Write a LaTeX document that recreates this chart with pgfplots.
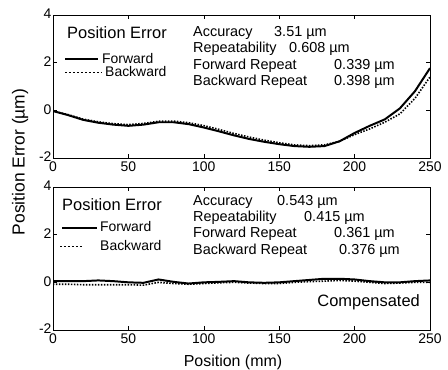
\documentclass[border=0pt]{standalone}
\usepackage{pgfplots}
\pgfplotsset{compat=1.18}
\usepackage{fontspec}
\setmainfont{Liberation Sans}
\newcommand\af{\fontsize{14.5}{16}\selectfont}
\newcommand\bgf{\fontsize{16.5}{18}\selectfont}
\newcommand\lgf{\fontsize{14}{16}\selectfont}
\newcommand\tf{\fontsize{14}{16}\selectfont}
\pgfplotstableread{
x y
0 -0.03
10 -0.2
20 -0.4
30 -0.52
40 -0.6
50 -0.65
60 -0.6
70 -0.5
80 -0.5
90 -0.58
100 -0.72
110 -0.88
120 -1.05
130 -1.2
140 -1.32
150 -1.42
160 -1.5
170 -1.53
180 -1.5
190 -1.3
200 -0.95
210 -0.65
220 -0.38
230 0.08
240 0.8
250 1.77
}\topfwd
\pgfplotstableread{
x y
0 -0.03
10 -0.18
20 -0.37
30 -0.48
40 -0.56
50 -0.6
60 -0.55
70 -0.46
80 -0.45
90 -0.52
100 -0.64
110 -0.8
120 -0.97
130 -1.12
140 -1.25
150 -1.36
160 -1.45
170 -1.48
180 -1.45
190 -1.3
200 -1.02
210 -0.78
220 -0.5
230 -0.15
240 0.5
250 1.4
}\topbwd
\pgfplotstableread{
x y
0 0.05
10 0.05
20 0.05
30 0.08
40 0.05
50 0.0
60 -0.02
70 0.12
80 0.02
90 -0.05
100 0.0
110 0.02
120 0.05
130 0.0
140 -0.02
150 0.0
160 0.05
170 0.1
180 0.15
190 0.15
200 0.12
210 0.05
220 0.0
230 0.0
240 0.05
250 0.08
}\botfwd
\pgfplotstableread{
x y
0 -0.08
10 -0.08
20 -0.1
30 -0.1
40 -0.1
50 -0.1
60 -0.12
70 0.0
80 -0.05
90 -0.08
100 -0.05
110 -0.02
120 0.0
130 -0.03
140 -0.05
150 -0.05
160 0.0
170 0.03
180 0.05
190 0.08
200 0.05
210 0.0
220 -0.05
230 -0.03
240 0.0
250 0.0
}\botbwd
\begin{document}
\begin{tikzpicture}
\useasboundingbox (0,0) rectangle (448bp,370bp);
\pgfplotsset{every axis/.append style={scale only axis, width=377bp,
  xmin=0, xmax=250, ymin=-2, ymax=4,
  xtick={0,50,...,250}, ytick={-2,0,2,4},
  tick label style={font=\tf},
  /pgf/number format/assume math mode=true,
  axis line style={line width=0.9pt},
  tick style={black, line width=0.6pt},
  xticklabel style={yshift=-0.5bp},
  yticklabel style={xshift=2bp, yshift=1bp}}}
\begin{axis}[at={(53bp,212bp)}, anchor=south west, height=143bp]
\addplot[black, line width=2pt] table[x=x,y=y]{\topfwd};
\addplot[black, line width=1.6pt, dash pattern=on 1.5pt off 1.5pt] table[x=x,y=y]{\topbwd};
\end{axis}
\begin{axis}[at={(53bp,40bp)}, anchor=south west, height=143bp]
\addplot[black, line width=2pt] table[x=x,y=y]{\botfwd};
\addplot[black, line width=1.6pt, dash pattern=on 1.5pt off 1.5pt] table[x=x,y=y]{\botbwd};
\end{axis}
% top annotations
\node[anchor=west, inner sep=0pt] at (67bp,337bp) {\bgf Position Error};
\draw[black, line width=1.1pt] (65bp,311bp) -- (98bp,311bp);
\draw[black, line width=0.8pt, dash pattern=on 2pt off 2pt] (65bp,298bp) -- (101bp,298bp);
\node[anchor=west, inner sep=0pt] at (102bp,311bp) {\lgf Forward};
\node[anchor=west, inner sep=0pt] at (105bp,298bp) {\lgf Backward};
\node[anchor=west, inner sep=0pt] at (193bp,337bp) {\af Accuracy};
\node[anchor=west, inner sep=0pt] at (193bp,321bp) {\af Repeatability};
\node[anchor=west, inner sep=0pt] at (193bp,304bp) {\af Forward Repeat};
\node[anchor=west, inner sep=0pt] at (193bp,288bp) {\af Backward Repeat};
\node[anchor=west, inner sep=0pt] at (274bp,337bp) {\af 3.51 µm};
\node[anchor=west, inner sep=0pt] at (289bp,321bp) {\af 0.608 µm};
\node[anchor=west, inner sep=0pt] at (334bp,304bp) {\af 0.339 µm};
\node[anchor=west, inner sep=0pt] at (334bp,288bp) {\af 0.398 µm};
% bottom annotations
\node[anchor=west, inner sep=0pt] at (62bp,165bp) {\bgf Position Error};
\draw[black, line width=1.1pt] (62bp,142bp) -- (97bp,142bp);
\draw[black, line width=0.8pt, dash pattern=on 2pt off 2pt] (60bp,124bp) -- (83bp,124bp);
\node[anchor=west, inner sep=0pt] at (100bp,143bp) {\lgf Forward};
\node[anchor=west, inner sep=0pt] at (100bp,124bp) {\lgf Backward};
\node[anchor=west, inner sep=0pt] at (193bp,168bp) {\af Accuracy};
\node[anchor=west, inner sep=0pt] at (193bp,152bp) {\af Repeatability};
\node[anchor=west, inner sep=0pt] at (193bp,136bp) {\af Forward Repeat};
\node[anchor=west, inner sep=0pt] at (193bp,119bp) {\af Backward Repeat};
\node[anchor=west, inner sep=0pt] at (277bp,168bp) {\af 0.543 µm};
\node[anchor=west, inner sep=0pt] at (304bp,152bp) {\af 0.415 µm};
\node[anchor=west, inner sep=0pt] at (334bp,136bp) {\af 0.361 µm};
\node[anchor=west, inner sep=0pt] at (339bp,119bp) {\af 0.376 µm};
\node[anchor=east, inner sep=0pt] at (420bp,68bp) {\bgf Compensated};
% axis labels
\node[inner sep=0pt] at (233bp,8bp) {\fontsize{16}{18}\selectfont Position (mm)};
\node[inner sep=0pt, rotate=90] at (20bp,208bp) {\fontsize{17.5}{19}\selectfont Position Error (µm)};
\end{tikzpicture}
\end{document}
